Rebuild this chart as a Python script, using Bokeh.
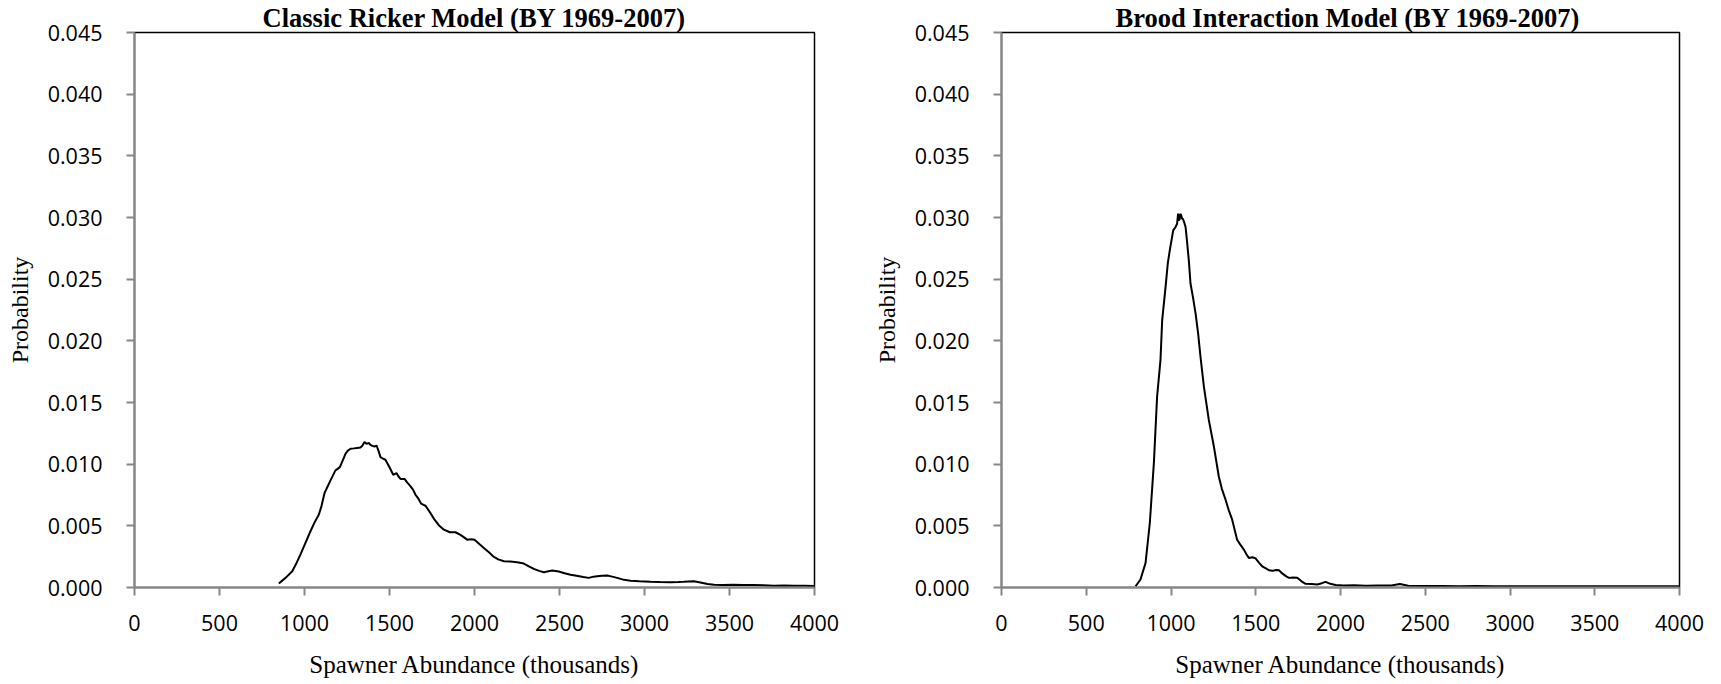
from bokeh.plotting import figure
from bokeh.layouts import row
from bokeh.models import Range1d, FixedTicker, NumeralTickFormatter, Title
from bokeh.embed import file_html
from bokeh.resources import INLINE

# ---------------- data ----------------
titles = ["Classic Ricker Model (BY 1969-2007)", "Brood Interaction Model (BY 1969-2007)"]
x_label = "Spawner Abundance (thousands)"
y_label = "Probability"
x_ticks = [0, 500, 1000, 1500, 2000, 2500, 3000, 3500, 4000]
y_ticks = [0.0, 0.005, 0.010, 0.015, 0.020, 0.025, 0.030, 0.035, 0.040, 0.045]

ricker_x = [849, 890, 928, 950, 976, 1005, 1035, 1060, 1084, 1100, 1118, 1150, 1182, 1195, 1208,
            1225, 1241, 1255, 1271, 1290, 1310, 1329, 1340, 1353, 1365, 1378, 1388, 1400, 1412, 1424,
            1435, 1447, 1462, 1476, 1500, 1522, 1541, 1553, 1565, 1588, 1605, 1624, 1640, 1653, 1670,
            1686, 1700, 1712, 1740, 1765, 1790, 1820, 1855, 1888, 1920, 1957, 1980, 2000, 2030, 2055,
            2085, 2114, 2140, 2173, 2210, 2251, 2290, 2320, 2349, 2380, 2408, 2435, 2457, 2496, 2530,
            2565, 2600, 2640, 2672, 2700, 2722, 2750, 2780, 2810, 2839, 2880, 2918, 2970, 3035, 3090,
            3153, 3200, 3231, 3260, 3290, 3329, 3370, 3410, 3460, 3520, 3580, 3640, 3700, 3760, 3820,
            3880, 3940, 4000]
ricker_y = [0.00032, 0.00080, 0.00132, 0.00190, 0.00267, 0.00360, 0.00456, 0.00530, 0.00590, 0.00660,
            0.00766, 0.00860, 0.00950, 0.00962, 0.00976, 0.01030, 0.01084, 0.01110, 0.01125, 0.01128,
            0.01132, 0.01135, 0.01150, 0.01179, 0.01165, 0.01172, 0.01157, 0.01148, 0.01143, 0.01150,
            0.01110, 0.01057, 0.01045, 0.01036, 0.00975, 0.00914, 0.00928, 0.00900, 0.00880, 0.00880,
            0.00850, 0.00820, 0.00790, 0.00752, 0.00720, 0.00680, 0.00670, 0.00663, 0.00605, 0.00550,
            0.00505, 0.00469, 0.00448, 0.00448, 0.00425, 0.00388, 0.00392, 0.00388, 0.00350, 0.00321,
            0.00285, 0.00248, 0.00228, 0.00213, 0.00210, 0.00205, 0.00194, 0.00172, 0.00151, 0.00135,
            0.00124, 0.00132, 0.00138, 0.00130, 0.00115, 0.00103, 0.00095, 0.00085, 0.00078, 0.00088,
            0.00092, 0.00095, 0.00097, 0.00088, 0.00078, 0.00062, 0.00054, 0.00050, 0.00046, 0.00044,
            0.00043, 0.00044, 0.00046, 0.00048, 0.00050, 0.00040, 0.00028, 0.00022, 0.00020, 0.00022,
            0.00020, 0.00021, 0.00018, 0.00015, 0.00016, 0.00014, 0.00015, 0.00013]

brood_x = [791, 820, 850, 875, 899, 918, 938, 948, 968, 981, 993, 1013, 1027, 1036, 1042,
           1046, 1050, 1055, 1060, 1065, 1070, 1078, 1086, 1095, 1105, 1115, 1130, 1145, 1160, 1174,
           1194, 1210, 1223, 1253, 1282, 1300, 1322, 1340, 1361, 1390, 1410, 1430, 1445, 1459, 1480,
           1499, 1520, 1538, 1560, 1578, 1600, 1620, 1637, 1660, 1680, 1696, 1720, 1745, 1770, 1794,
           1830, 1863, 1890, 1912, 1940, 1971, 2020, 2080, 2150, 2220, 2300, 2350, 2400, 2500, 2600,
           2700, 2800, 2900, 3000, 3200, 3400, 3600, 3800, 4000]
brood_y = [0.00010, 0.00065, 0.00200, 0.00523, 0.01010, 0.01548, 0.01845, 0.02168, 0.02438, 0.02627,
           0.02735, 0.02896, 0.02923, 0.02950, 0.03032, 0.02980, 0.02980, 0.03030, 0.03020, 0.02990,
           0.02990, 0.02960, 0.02923, 0.02800, 0.02654, 0.02465, 0.02350, 0.02222, 0.02060, 0.01871,
           0.01629, 0.01480, 0.01359, 0.01143, 0.00900, 0.00800, 0.00712, 0.00630, 0.00550, 0.00388,
           0.00345, 0.00307, 0.00270, 0.00240, 0.00245, 0.00236, 0.00200, 0.00172, 0.00155, 0.00140,
           0.00135, 0.00142, 0.00140, 0.00110, 0.00090, 0.00078, 0.00082, 0.00080, 0.00050, 0.00030,
           0.00028, 0.00025, 0.00035, 0.00046, 0.00030, 0.00020, 0.00016, 0.00018, 0.00015, 0.00017,
           0.00016, 0.00028, 0.00015, 0.00012, 0.00013, 0.00011, 0.00012, 0.00011, 0.00010, 0.00010,
           0.00010, 0.00010, 0.00010, 0.00010]

series = [(ricker_x, ricker_y), (brood_x, brood_y)]

# ---------------- layout ----------------
fig_widths = [866, 847]
borders_lr = [(134, 52), (135, 34)]
title_align = [("center", 0), ("left", 114)]

figs = []
for i, (xs, ys) in enumerate(series):
    bl, br = borders_lr[i]
    p = figure(width=fig_widths[i], height=680, output_backend="svg", toolbar_location=None,
               x_range=Range1d(0, 4000), y_range=Range1d(0, 0.045),
               min_border_left=bl, min_border_right=br, min_border_top=32, min_border_bottom=92)
    p.line(xs, ys, line_color="black", line_width=2)
    p.grid.visible = False
    p.outline_line_color = "black"
    p.outline_line_width = 1.5
    p.background_fill_color = "white"
    p.border_fill_color = "white"

    for ax in (p.xaxis[0], p.yaxis[0]):
        ax.axis_line_color = "#878787"
        ax.axis_line_width = 2
        ax.major_tick_line_color = "#878787"
        ax.major_tick_line_width = 2
        ax.major_tick_out = 8
        ax.major_tick_in = 0
        ax.minor_tick_line_color = None
        ax.major_label_text_font = "Open Sans"
        ax.major_label_text_font_size = "21.5px"
        ax.major_label_text_color = "black"
        ax.axis_label_text_font = "Liberation Serif"
        ax.axis_label_text_font_style = "normal"
        ax.axis_label_text_color = "black"

    p.xaxis.ticker = FixedTicker(ticks=x_ticks)
    p.xaxis.formatter = NumeralTickFormatter(format="0")
    p.xaxis.major_label_standoff = 19
    p.xaxis.axis_label = x_label
    p.xaxis.axis_label_standoff = 17
    p.xaxis.axis_label_text_font_size = "25px"

    p.yaxis.ticker = FixedTicker(ticks=y_ticks)
    p.yaxis.formatter = NumeralTickFormatter(format="0.000")
    p.yaxis.major_label_standoff = 24
    p.yaxis.axis_label = y_label
    p.yaxis.axis_label_standoff = 12
    p.yaxis.axis_label_text_font_size = "24px"

    al, off = title_align[i]
    t = Title(text=titles[i], align=al, offset=off, vertical_align="top", standoff=-4,
              text_font="Liberation Serif", text_font_style="bold", text_font_size="26.5px",
              text_color="black")
    p.add_layout(t, "above")
    figs.append(p)

layout = row(*figs)
open("out.html", "w").write(file_html(layout, INLINE))
